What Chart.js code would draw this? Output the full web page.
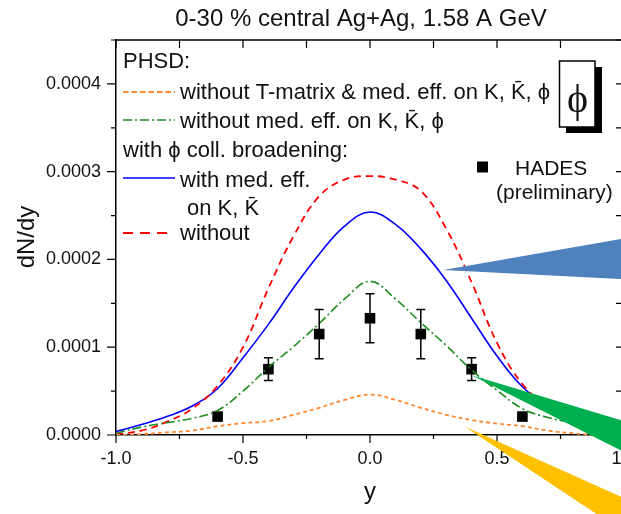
<!DOCTYPE html>
<html>
<head>
<meta charset="utf-8">
<title>phi rapidity, Ag+Ag 1.58 A GeV</title>
<script src="https://cdn.jsdelivr.net/npm/chart.js@4.4.1/dist/chart.umd.min.js"></script>
<style>
  html, body { margin: 0; padding: 0; background: #fff; overflow: hidden; }
  #wrap { width: 650px; height: 514px; position: relative; }
</style>
</head>
<body>
<div id="wrap"><canvas id="phiChart"></canvas></div>
<script>
// === data (dN/dy in units of 1e-4) ===
const rapidity = [-1.0, -0.9, -0.8, -0.7, -0.6, -0.5, -0.4, -0.3, -0.2, -0.1, 0.0,
                  0.1, 0.2, 0.3, 0.4, 0.5, 0.6, 0.7, 0.8, 0.9, 1.0];

const noTmatrix  = [0.00, 0.01, 0.03, 0.05, 0.10, 0.135, 0.16, 0.23, 0.31, 0.40, 0.46,
                    0.40, 0.31, 0.23, 0.17, 0.13, 0.10, 0.05, 0.02, 0.00, 0.00];
const noMedEff   = [0.02, 0.09, 0.14, 0.19, 0.28, 0.50, 0.77, 1.01, 1.27, 1.55, 1.75,
                    1.55, 1.28, 1.02, 0.74, 0.51, 0.30, 0.20, 0.14, 0.10, 0.05];
const withMedEff = [0.04, 0.12, 0.21, 0.33, 0.53, 0.88, 1.26, 1.68, 2.06, 2.38, 2.54,
                    2.40, 2.12, 1.76, 1.33, 0.90, 0.55, 0.33, 0.21, 0.12, 0.04];
const withoutMed = [0.01, 0.05, 0.15, 0.30, 0.56, 1.00, 1.67, 2.27, 2.72, 2.91, 2.95,
                    2.91, 2.78, 2.35, 1.74, 1.05, 0.58, 0.32, 0.15, 0.05, 0.01];

const hadesY   = [-0.6, -0.4, -0.2, 0.0, 0.2, 0.4, 0.6];
const hadesVal = [0.21, 0.75, 1.15, 1.33, 1.15, 0.75, 0.21];
const hadesErr = [0.00, 0.13, 0.28, 0.28, 0.28, 0.13, 0.00];

const xTickLabels = ["-1.0", "-0.5", "0.0", "0.5", "1.0"];
const yTickLabels = ["0.0000", "0.0001", "0.0002", "0.0003", "0.0004"];

// pointer wedges overlaid on the figure: [tip, base top, base bottom] in data coords
const wedges = [
  { color: "#4f81bd", pts: [[0.289, 1.88], [1.10, 2.29], [1.10, 1.76]] },
  { color: "#00b050", pts: [[0.400, 0.68], [1.10, 0.07], [1.10, -0.34]] },
  { color: "#ffc000", pts: [[0.374, 0.095], [1.10, -0.85], [1.10, -1.30]] }
];

const SANS = "'Liberation Sans', Arial, Helvetica, sans-serif";
const TEXT = "#111";

const toXY = (xs, ys) => xs.map((x, i) => ({ x: x, y: ys[i] }));

// === styles for the curves ===
const curves = [
  { data: noTmatrix,  color: "#ff8833", dash: [4, 3],       width: 1.8 },
  { data: noMedEff,   color: "#1e8c1e", dash: [9, 3, 2, 3], width: 1.6 },
  { data: withoutMed, color: "#ff0000", dash: [7, 5],       width: 1.8 },
  { data: withMedEff, color: "#0000ff", dash: [],           width: 1.6 }
];

const isMajor = (v, step) => Math.abs(Math.round(v / step) * step - v) < 1e-6;

// === ticks, frame, legend, error bars, wedges ===
const decor = {
  id: "decor",
  afterDatasetsDraw(chart) {
    const { ctx, scales: { x, y } } = chart;
    ctx.save();
    ctx.strokeStyle = "#000";
    ctx.lineWidth = 1.5;
    hadesY.forEach((v, i) => {
      if (!hadesErr[i]) return;
      const px = x.getPixelForValue(v);
      const top = y.getPixelForValue(hadesVal[i] + hadesErr[i]);
      const bot = y.getPixelForValue(hadesVal[i] - hadesErr[i]);
      ctx.beginPath();
      ctx.moveTo(px, top); ctx.lineTo(px, bot);
      ctx.moveTo(px - 4.5, top); ctx.lineTo(px + 4.5, top);
      ctx.moveTo(px - 4.5, bot); ctx.lineTo(px + 4.5, bot);
      ctx.stroke();
    });
    ctx.restore();
  },
  afterDraw(chart) {
    const { ctx, chartArea: a, scales: { x, y } } = chart;
    ctx.save();

    // frame top / right
    ctx.strokeStyle = "#000";
    ctx.lineWidth = 1.5;
    ctx.beginPath();
    ctx.moveTo(a.left, a.top); ctx.lineTo(a.right, a.top); ctx.lineTo(a.right, a.bottom);
    ctx.stroke();

    // tick marks
    ctx.lineWidth = 1.2;
    ctx.beginPath();
    x.ticks.forEach(t => {
      const px = x.getPixelForValue(t.value);
      const len = isMajor(t.value, 0.5) ? 8 : 4;
      ctx.moveTo(px, a.bottom); ctx.lineTo(px, a.bottom + len);
      ctx.moveTo(px, a.top); ctx.lineTo(px, a.top + 8);
    });
    y.ticks.forEach(t => {
      const py = y.getPixelForValue(t.value);
      const len = isMajor(t.value, 1) ? 9 : 5;
      ctx.moveTo(a.left, py); ctx.lineTo(a.left - len, py);
      ctx.moveTo(a.right, py); ctx.lineTo(a.right - 8, py);
    });
    ctx.stroke();

    // titles
    ctx.fillStyle = TEXT;
    ctx.font = "24px " + SANS;
    ctx.textAlign = "center";
    ctx.textBaseline = "alphabetic";
    ctx.fillText("0-30 % central Ag+Ag, 1.58 A GeV", 361, 26);
    ctx.fillText("y", 370, 499);
    ctx.save();
    ctx.translate(34, 237);
    ctx.rotate(-Math.PI / 2);
    ctx.fillText("dN/dy", 0, 0);
    ctx.restore();

    // legend
    ctx.textAlign = "left";
    ctx.font = "22px " + SANS;
    ctx.fillText("PHSD:", 123, 68);
    const sample = (c, yy, x1, dash) => {
      ctx.save();
      ctx.strokeStyle = c.color;
      ctx.lineWidth = c.width;
      ctx.setLineDash(dash || c.dash);
      ctx.beginPath(); ctx.moveTo(123, yy); ctx.lineTo(x1, yy); ctx.stroke();
      ctx.restore();
    };
    sample(curves[0], 92, 175, [5.5, 3]);
    ctx.fillText("without T-matrix & med. eff. on K, K\u0304, \u03D5", 180, 99);
    sample(curves[1], 120, 175);
    ctx.fillText("without med. eff. on K, K\u0304, \u03D5", 180, 128);
    ctx.fillText("with \u03D5 coll. broadening:", 123, 157);
    sample(curves[3], 178, 175);
    ctx.fillText("with med. eff.", 180, 187);
    ctx.fillText("on K, K\u0304", 187, 215);
    sample(curves[2], 233, 170, [10, 7]);
    ctx.fillText("without", 180, 240);

    ctx.fillStyle = "#000";
    ctx.fillRect(477, 161.5, 11, 11);
    ctx.fillStyle = TEXT;
    ctx.font = "21px " + SANS;
    ctx.fillText("HADES", 515, 175);
    ctx.fillText("(preliminary)", 496, 199);

    // phi box with shadow
    ctx.fillStyle = "#000";
    ctx.fillRect(566, 67, 36, 66);
    ctx.fillStyle = "#fff";
    ctx.fillRect(559.5, 61, 35.5, 66);
    ctx.strokeStyle = "#000";
    ctx.lineWidth = 1.5;
    ctx.strokeRect(559.5, 61, 35.5, 66);
    ctx.fillStyle = TEXT;
    ctx.textAlign = "center";
    ctx.font = "40px 'Liberation Serif', 'DejaVu Serif', serif";
    ctx.fillText("\u03D5", 577.5, 112);

    // pointer wedges
    wedges.forEach(w => {
      ctx.fillStyle = w.color;
      ctx.beginPath();
      w.pts.forEach((p, i) => {
        const px = x.getPixelForValue(p[0]);
        const py = y.getPixelForValue(p[1]);
        if (i === 0) ctx.moveTo(px, py); else ctx.lineTo(px, py);
      });
      ctx.closePath();
      ctx.fill();
    });

    ctx.restore();
  }
};

const datasets = curves.map(c => ({
  type: "line",
  data: toXY(rapidity, c.data),
  borderColor: c.color,
  borderWidth: c.width,
  borderDash: c.dash,
  pointRadius: 0,
  fill: false,
  tension: 0.4
}));

datasets.push({
  type: "scatter",
  data: toXY(hadesY, hadesVal),
  backgroundColor: "#000",
  borderColor: "#000",
  pointStyle: "rect",
  pointRadius: 7.5,
  borderWidth: 0
});

new Chart(document.getElementById("phiChart"), {
  data: { datasets: datasets },
  options: {
    responsive: true,
    maintainAspectRatio: false,
    animation: false,
    layout: { padding: { top: 40, right: 26, bottom: 0, left: 0 } },
    plugins: { legend: { display: false }, tooltip: { enabled: false }, title: { display: false } },
    scales: {
      x: {
        type: "linear",
        min: -1, max: 1,
        grid: { display: false, drawTicks: false },
        border: { display: true, color: "#000", width: 1.5 },
        ticks: {
          stepSize: 0.25,
          autoSkip: false,
          maxRotation: 0,
          padding: 13,
          color: TEXT,
          font: { family: SANS, size: 18 },
          callback: v => isMajor(v, 0.5) ? xTickLabels[Math.round((v + 1) / 0.5)] : ""
        },
        afterFit: s => { s.height = 79; s.paddingLeft = 0; s.paddingRight = 0; }
      },
      y: {
        type: "linear",
        min: 0, max: 4.5,
        grid: { display: false, drawTicks: false },
        border: { display: true, color: "#000", width: 1.5 },
        ticks: {
          stepSize: 0.5,
          autoSkip: false,
          padding: 15,
          color: TEXT,
          font: { family: SANS, size: 18 },
          callback: v => isMajor(v, 1) ? yTickLabels[Math.round(v)] : ""
        },
        afterFit: s => { s.width = 116; s.paddingTop = 0; s.paddingBottom = 0; }
      }
    }
  },
  plugins: [decor]
});
</script>
</body>
</html>
